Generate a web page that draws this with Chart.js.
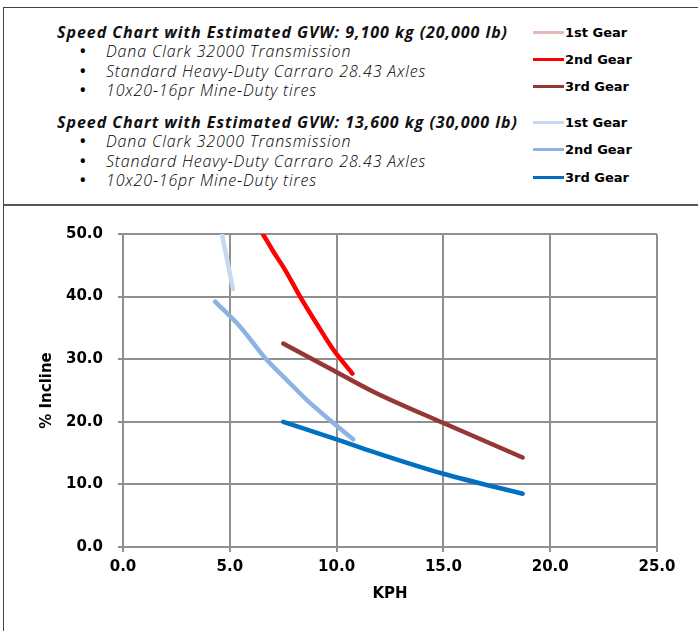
<!DOCTYPE html>
<html>
<head>
<meta charset="utf-8">
<script src="https://cdn.jsdelivr.net/npm/chart.js@4/dist/chart.umd.min.js"></script>
<style>
  html, body { margin: 0; padding: 0; background: #fff; }
  body { width: 698px; height: 631px; position: relative; overflow: hidden; font-family: "Open Sans", sans-serif; }
  #frameTop { position: absolute; left: 4px; top: 7px; width: 694px; height: 0; border-top: 1.5px solid #444; }
  #frameLeft { position: absolute; left: 3px; top: 7px; width: 0; height: 624px; border-left: 1.5px solid #444; }
  #headerBottom { position: absolute; left: 4px; top: 204px; width: 694px; height: 0; border-top: 2px solid #555; }
  .t { position: absolute; white-space: nowrap; line-height: 1; color: #111; }
  .title { font-weight: 700; font-style: italic; font-size: 16px; letter-spacing: 0.95px; }
  .item { font-style: italic; font-weight: 300; font-size: 16px; color: #000; letter-spacing: 0.85px; }
  .bullet { font-size: 20px; font-style: normal; font-weight: 400; letter-spacing: 0; }
  .lg { position: absolute; left: 533px; width: 31px; height: 3px; }
  .lgt { position: absolute; left: 565px; font-family: "DejaVu Sans", sans-serif; font-weight: 700; font-size: 13px; white-space: nowrap; line-height: 1; color: #000; }
  #wrap { position: absolute; left: 0; top: 207px; width: 698px; height: 424px; }
</style>
</head>
<body>
<div id="frameTop"></div>
<div id="frameLeft"></div>
<div id="headerBottom"></div>
<div id="header"></div>
<div id="wrap"><canvas id="c" width="698" height="424"></canvas></div>
<script>
// ---- data ----
const headerTitles = [
  "Speed Chart with Estimated GVW: 9,100 kg (20,000 lb)",
  "Speed Chart with Estimated GVW: 13,600 kg (30,000 lb)"
];
const headerItems = [
  "Dana Clark 32000 Transmission",
  "Standard Heavy-Duty Carraro 28.43 Axles",
  "10x20-16pr Mine-Duty tires"
];
const gearLabels = ["1st Gear", "2nd Gear", "3rd Gear"];

// 20,000 lb
const kph20k_g1 = [];
const inc20k_g1 = [];
const kph20k_g2 = [6.55, 7.0, 7.6, 8.29, 9.1, 9.85, 10.74];
const inc20k_g2 = [50.0, 47.4, 44.2, 40.0, 35.5, 31.5, 27.7];
const kph20k_g3 = [7.5, 9.53, 11.72, 15.0, 18.71];
const inc20k_g3 = [32.5, 28.8, 24.8, 19.8, 14.3];
// 30,000 lb
const kph30k_g1 = [4.63, 5.15];
const inc30k_g1 = [50.0, 41.2];
const kph30k_g2 = [4.31, 5.48, 6.73, 7.66, 8.6, 9.85, 10.78];
const inc30k_g2 = [39.2, 35.2, 29.9, 26.7, 23.5, 19.8, 17.2];
const kph30k_g3 = [7.5, 10.0, 11.72, 15.0, 18.71];
const inc30k_g3 = [20.0, 17.2, 15.2, 11.7, 8.5];

const xTicks = [0, 5, 10, 15, 20, 25];
const yTicks = [0, 10, 20, 30, 40, 50];

const colors20k = ["#e6b9b8", "#ff0000", "#953735"];
const colors30k = ["#c6d9f1", "#8db3e2", "#0070c0"];

// ---- header (HTML text) ----
const header = document.getElementById('header');
function addText(cls, txt, left, centerY) {
  const d = document.createElement('div');
  d.className = 't ' + cls;
  d.textContent = txt;
  d.style.left = left + 'px';
  d.style.top = centerY + 'px';
  d.style.transform = 'translateY(-50%)';
  header.appendChild(d);
}
const blocks = [{ y: 32, rows: [51, 71, 90] }, { y: 122, rows: [141, 161, 180] }];
blocks.forEach((b, bi) => {
  addText('title', headerTitles[bi], 57, b.y);
  headerItems.forEach((it, ii) => {
    addText('item bullet', '•', 79, b.rows[ii]);
    addText('item', it, 106, b.rows[ii]);
  });
});
const legendRows = [[32, 59, 86], [122, 149, 177]];
[colors20k, colors30k].forEach((cols, gi) => {
  cols.forEach((col, i) => {
    const l = document.createElement('div');
    l.className = 'lg';
    l.style.background = col;
    l.style.top = (legendRows[gi][i] - 1.5) + 'px';
    header.appendChild(l);
    const t = document.createElement('div');
    t.className = 'lgt';
    t.textContent = gearLabels[i];
    t.style.top = legendRows[gi][i] + 'px';
    t.style.transform = 'translateY(-50%)';
    header.appendChild(t);
  });
});

// ---- chart ----
function pts(xs, ys) { return xs.map((x, i) => ({ x: x, y: ys[i] })); }
function ds(label, xs, ys, color) {
  return {
    label: label, data: pts(xs, ys), borderColor: color, backgroundColor: color,
    showLine: true, pointRadius: 0, borderWidth: 4.5, tension: 0.35,
    cubicInterpolationMode: 'monotone',
    borderCapStyle: 'round', borderJoinStyle: 'round', fill: false
  };
}
const datasets = [
  ds("20,000 lb 1st Gear", kph20k_g1, inc20k_g1, colors20k[0]),
  ds("20,000 lb 2nd Gear", kph20k_g2, inc20k_g2, colors20k[1]),
  ds("20,000 lb 3rd Gear", kph20k_g3, inc20k_g3, colors20k[2]),
  ds("30,000 lb 1st Gear", kph30k_g1, inc30k_g1, colors30k[0]),
  ds("30,000 lb 2nd Gear", kph30k_g2, inc30k_g2, colors30k[1]),
  ds("30,000 lb 3rd Gear", kph30k_g3, inc30k_g3, colors30k[2])
];

const tickFont = { family: "DejaVu Sans", weight: "bold", size: 15 };
const gridCol = "#8f8f8f";

new Chart(document.getElementById('c'), {
  type: 'scatter',
  data: { datasets: datasets },
  options: {
    responsive: false,
    animation: false,
    layout: { padding: { left: 0, right: 41, top: 27, bottom: 0 } },
    plugins: { legend: { display: false }, tooltip: { enabled: false } },
    scales: {
      x: {
        type: 'linear', min: 0, max: 25,
        afterBuildTicks: (s) => { s.ticks = xTicks.map(v => ({ value: v })); },
        afterFit: (s) => { s.height = 84; },
        ticks: { font: tickFont, color: "#000", padding: 6, callback: v => v.toFixed(1), maxRotation: 0, autoSkip: false },
        grid: { color: gridCol, lineWidth: 2, tickLength: 5, drawTicks: true },
        border: { color: gridCol, width: 2 },
        title: { display: true, text: "KPH", font: { family: "DejaVu Sans", weight: "bold", size: 15 }, color: "#000", padding: { top: 0, bottom: 28 } }
      },
      y: {
        type: 'linear', min: 0, max: 50,
        afterBuildTicks: (s) => { s.ticks = yTicks.map(v => ({ value: v })); },
        afterFit: (s) => { s.width = 123; },
        ticks: { font: tickFont, color: "#000", padding: 15, callback: v => v.toFixed(1), autoSkip: false },
        grid: { color: gridCol, lineWidth: 2, tickLength: 5, drawTicks: true },
        border: { color: gridCol, width: 2 },
        title: { display: true, text: "% Incline", font: { family: "DejaVu Sans", weight: "bold", size: 15 }, color: "#000", padding: { top: 38, bottom: 0 } }
      }
    }
  }
});
</script>
</body>
</html>
